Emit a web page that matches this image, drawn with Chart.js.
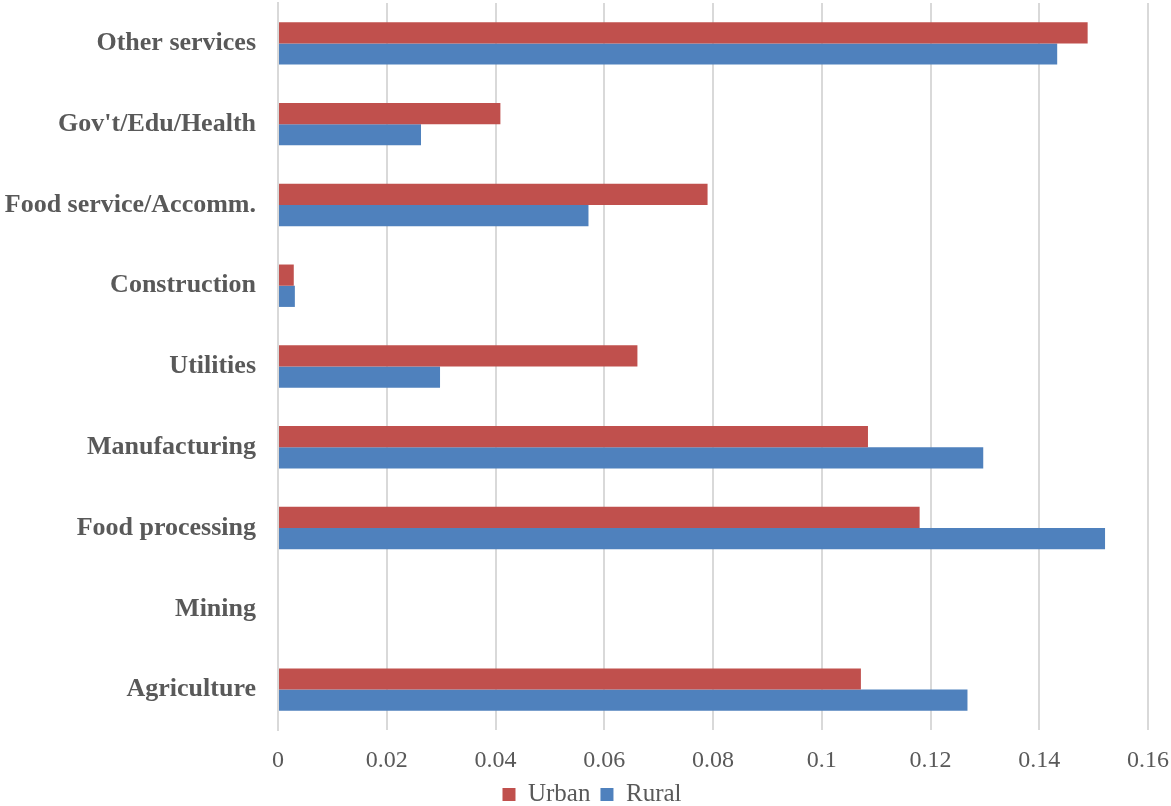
<!DOCTYPE html>
<html>
<head>
<meta charset="utf-8">
<script src="https://cdn.jsdelivr.net/npm/chart.js@4.4.1/dist/chart.umd.min.js"></script>
<style>
    html, body { margin: 0; padding: 0; background: #fff; }
    #wrap { width: 1171px; height: 806px; position: relative; }
</style>
</head>
<body>
<div id="wrap"><canvas id="chart"></canvas></div>
<script>
// categories listed top to bottom as they appear
const sectors = [
    'Other services',
    "Gov't/Edu/Health",
    'Food service/Accomm.',
    'Construction',
    'Utilities',
    'Manufacturing',
    'Food processing',
    'Mining',
    'Agriculture'
];
const urban = [0.1489, 0.0409, 0.0790, 0.0029, 0.0661, 0.1085, 0.1180, 0, 0.1072];
const rural = [0.1433, 0.0263, 0.0571, 0.0031, 0.0298, 0.1297, 0.1521, 0, 0.1268];
const xTickLabels = ['0', '0.02', '0.04', '0.06', '0.08', '0.1', '0.12', '0.14', '0.16'];

const textColor = '#595959';
const gridColor = '#d9d9d9';
const serif = "'Liberation Serif', 'Times New Roman', serif";

// the original legend sits a little right of the canvas centre
const legendShift = {
    id: 'legendShift',
    afterLayout(chart) {
        chart.legend.left += 18;
        chart.legend.right += 18;
    }
};

const ctx = document.getElementById('chart').getContext('2d');

const myChart = new Chart(ctx, { // eslint-disable-line
    type: 'bar',
    data: {
        labels: sectors,
        datasets: [
            {
                label: 'Urban',
                data: urban,
                backgroundColor: '#C0504D',
                borderWidth: 0
            },
            {
                label: 'Rural',
                data: rural,
                backgroundColor: '#4F81BD',
                borderWidth: 0
            }
        ]
    },
    plugins: [legendShift],
    options: {
        indexAxis: 'y',
        responsive: true,
        maintainAspectRatio: false,
        animation: false,
        barPercentage: 1,
        categoryPercentage: 0.525,
        layout: {
            padding: { top: 3, right: 23, left: 0, bottom: -11 }
        },
        plugins: {
            tooltip: { enabled: false },
            legend: {
                position: 'bottom',
                labels: {
                    color: textColor,
                    font: { family: serif, size: 25 },
                    boxWidth: 13,
                    boxHeight: 13,
                    padding: 10
                }
            }
        },
        scales: {
            x: {
                min: 0,
                max: 0.16,
                ticks: {
                    stepSize: 0.02,
                    color: textColor,
                    font: { family: serif, size: 24 },
                    padding: 16,
                    callback: (value, index) => xTickLabels[index]
                },
                grid: {
                    color: gridColor,
                    lineWidth: 2,
                    drawTicks: false
                },
                border: { display: false },
                afterFit: (scale) => {
                    scale.height = 42;
                    scale.paddingLeft = 0;
                    scale.paddingRight = 0;
                }
            },
            y: {
                ticks: {
                    color: textColor,
                    font: { family: serif, size: 26, weight: 'bold' },
                    padding: 22
                },
                grid: { display: false, drawTicks: false },
                border: { color: gridColor, width: 2 },
                afterFit: (scale) => {
                    scale.width = 278;
                    scale.paddingTop = 0;
                    scale.paddingBottom = 0;
                }
            }
        }
    }
});
</script>
</body>
</html>
